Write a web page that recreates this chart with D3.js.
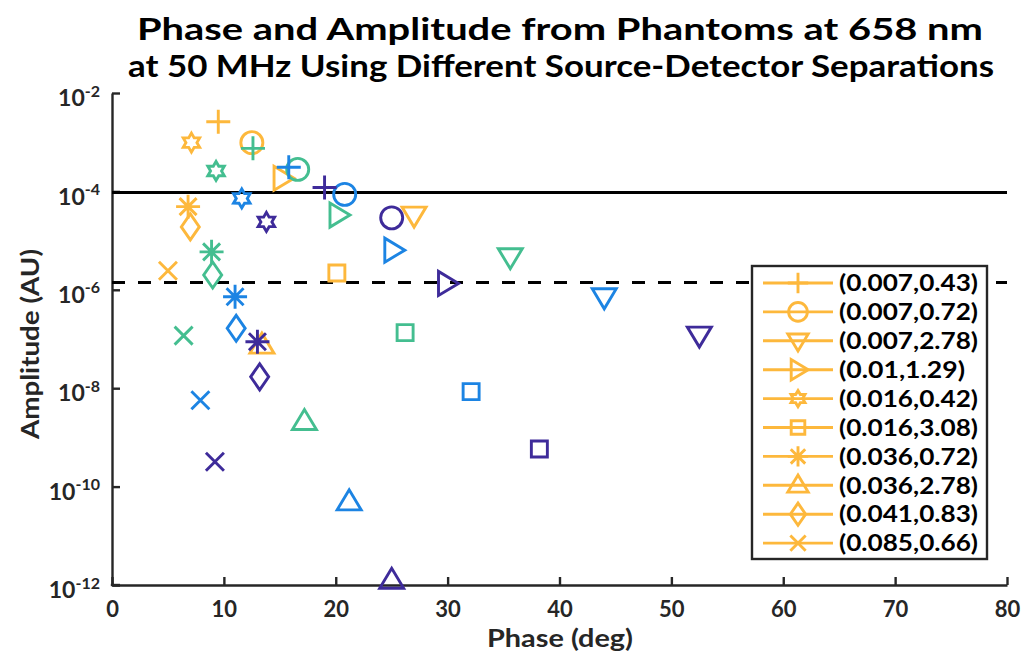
<!DOCTYPE html>
<html>
<head>
<meta charset="utf-8">
<script src="https://cdn.jsdelivr.net/npm/d3@7"></script>
<style>
  body { margin: 0; background: #fff; }
  text { font-family: Lato, "Open Sans", sans-serif; font-weight: bold; fill: #262626; }
</style>
</head>
<body>
<div id="chart-div"></div>
<script>

// source-detector pairs, one marker each
const pairLabels = ["(0.007,0.43)", "(0.007,0.72)", "(0.007,2.78)", "(0.01,1.29)", "(0.016,0.42)",
                    "(0.016,3.08)", "(0.036,0.72)", "(0.036,2.78)", "(0.041,0.83)", "(0.085,0.66)"];
const markerTypes = ["plus", "circle", "triDown", "triRight", "hexagram",
                     "square", "asterisk", "triUp", "diamond", "cross"];

// one colour per phantom
const seriesColors = ["#FDB83C", "#44BE90", "#1C84E3", "#3E2B9A"];

const phaseYellow = [9.5, 12.5, 27.0, 15.2, 7.1, 20.1, 6.8, 13.4, 7.0, 5.0];
const ampYellow = [2.6e-3, 9.8e-4, 3.3e-5, 1.85e-4, 9.8e-4, 2.2e-6, 4.9e-5, 7.5e-8, 1.9e-5, 2.45e-6];
const phaseGreen = [12.6, 16.6, 35.6, 20.2, 9.3, 26.2, 8.9, 17.2, 9.0, 6.4];
const ampGreen = [7.5e-4, 2.8e-4, 4.7e-6, 3.3e-5, 2.6e-4, 1.35e-7, 5.9e-6, 2.1e-9, 2.0e-6, 1.17e-7];
const phaseBlue = [15.8, 20.8, 44.0, 25.1, 11.6, 32.1, 11.0, 21.2, 11.1, 7.9];
const ampBlue = [3.1e-4, 8.7e-5, 7.2e-7, 6.4e-6, 7.2e-5, 8.5e-9, 7.2e-7, 4.9e-11, 1.65e-7, 5.7e-9];
const phasePurple = [19.0, 25.0, 52.5, 29.9, 13.8, 38.2, 13.0, 25.0, 13.2, 9.2];
const ampPurple = [1.2e-4, 2.9e-5, 1.2e-7, 1.35e-6, 2.4e-5, 5.8e-10, 8.8e-8, 1.25e-12, 1.7e-8, 3.2e-10];

// reference levels
const solidLevel = 9.5e-5;
const dashedLevel = 1.4e-6;

const xTicks = [0, 10, 20, 30, 40, 50, 60, 70, 80];
const yTickExps = [-2, -4, -6, -8, -10, -12];

const svgDims = { width: 1026, height: 659 };
const plot = { left: 112, right: 1007, top: 93, bottom: 585 };

const svg = d3.select("#chart-div")
    .append("svg")
    .attr("width", svgDims.width)
    .attr("height", svgDims.height);

const xScale = d3.scaleLinear().domain([0, 80]).range([plot.left, plot.right]);
const yScale = d3.scaleLog().domain([1e-12, 1e-2]).range([plot.bottom, plot.top]);

// marker outlines
function markerPath(type, s) {
    const p = d3.path();
    if (type === "plus") {
        p.moveTo(-12 * s, 0); p.lineTo(12 * s, 0);
        p.moveTo(0, -12 * s); p.lineTo(0, 12 * s);
    } else if (type === "circle") {
        p.moveTo(11 * s, 0); p.arc(0, 0, 11 * s, 0, 2 * Math.PI);
    } else if (type === "triDown") {
        p.moveTo(-12 * s, -8 * s); p.lineTo(12 * s, -8 * s); p.lineTo(0, 12 * s); p.closePath();
    } else if (type === "triUp") {
        p.moveTo(-12 * s, 8 * s); p.lineTo(12 * s, 8 * s); p.lineTo(0, -12 * s); p.closePath();
    } else if (type === "triRight") {
        p.moveTo(-8 * s, -12 * s); p.lineTo(-8 * s, 12 * s); p.lineTo(12 * s, 0); p.closePath();
    } else if (type === "hexagram") {
        for (let i = 0; i < 12; i++) {
            const r = (i % 2 === 0 ? 9.5 : 5.5) * s;
            const a = -Math.PI / 2 + i * Math.PI / 6;
            if (i === 0) p.moveTo(r * Math.cos(a), r * Math.sin(a));
            else p.lineTo(r * Math.cos(a), r * Math.sin(a));
        }
        p.closePath();
    } else if (type === "square") {
        p.rect(-8 * s, -8 * s, 16 * s, 16 * s);
    } else if (type === "asterisk") {
        const d = 8.5 * s;
        p.moveTo(-12 * s, 0); p.lineTo(12 * s, 0);
        p.moveTo(0, -12 * s); p.lineTo(0, 12 * s);
        p.moveTo(-d, -d); p.lineTo(d, d);
        p.moveTo(-d, d); p.lineTo(d, -d);
    } else if (type === "diamond") {
        p.moveTo(0, -13 * s); p.lineTo(9 * s, 0); p.lineTo(0, 13 * s); p.lineTo(-9 * s, 0); p.closePath();
    } else if (type === "cross") {
        p.moveTo(-9 * s, -9 * s); p.lineTo(9 * s, 9 * s);
        p.moveTo(-9 * s, 9 * s); p.lineTo(9 * s, -9 * s);
    }
    return p.toString();
}

// Title
svg.append("text")
    .attr("x", 560).attr("y", 40)
    .attr("text-anchor", "middle")
    .attr("textLength", 846).attr("lengthAdjust", "spacingAndGlyphs")
    .style("font-size", "31px").style("fill", "#000")
    .text("Phase and Amplitude from Phantoms at 658 nm");
svg.append("text")
    .attr("x", 561).attr("y", 77)
    .attr("text-anchor", "middle")
    .attr("textLength", 866).attr("lengthAdjust", "spacingAndGlyphs")
    .style("font-size", "31px").style("fill", "#000")
    .text("at 50 MHz Using Different Source-Detector Separations");

// x axis
const xGroup = svg.append("g")
    .attr("transform", "translate(0," + plot.bottom + ")")
    .call(d3.axisBottom(xScale).tickValues(xTicks).tickSize(-8).tickPadding(16).tickSizeOuter(0));
xGroup.selectAll("text").style("font-size", "22px");

// y axis, labels are 10 with superscript exponent
const yGroup = svg.append("g")
    .attr("transform", "translate(" + plot.left + ",0)")
    .call(d3.axisLeft(yScale).tickValues(yTickExps.map(e => Math.pow(10, e)))
        .tickSize(-8).tickPadding(12).tickSizeOuter(0).tickFormat(() => ""));
yGroup.selectAll(".tick text").each(function(d) {
    const t = d3.select(this).style("font-size", "23px").attr("dy", "0.55em");
    t.append("tspan").text("10");
    t.append("tspan").attr("dy", "-0.6em").style("font-size", "16px")
        .text(Math.round(Math.log10(d)));
});

[xGroup, yGroup].forEach(g => {
    g.select(".domain").attr("stroke", "#262626").attr("stroke-width", 2.4);
    g.selectAll(".tick line").attr("stroke", "#262626").attr("stroke-width", 2.4);
    g.selectAll("text").style("fill", "#262626");
});
// close the corner where both axes meet
svg.append("line")
    .attr("x1", plot.left - 1.2).attr("x2", plot.left + 8)
    .attr("y1", plot.bottom).attr("y2", plot.bottom)
    .attr("stroke", "#262626").attr("stroke-width", 2.4);

// axis titles
svg.append("text")
    .attr("x", 560).attr("y", 647)
    .attr("text-anchor", "middle")
    .attr("textLength", 146).attr("lengthAdjust", "spacingAndGlyphs")
    .style("font-size", "25px")
    .text("Phase (deg)");
svg.append("text")
    .attr("transform", "translate(39," + 344 + ") rotate(-90)")
    .attr("text-anchor", "middle")
    .attr("textLength", 190).attr("lengthAdjust", "spacingAndGlyphs")
    .style("font-size", "24px")
    .text("Amplitude (AU)");

// reference lines
svg.append("line")
    .attr("x1", xScale(0)).attr("x2", xScale(80))
    .attr("y1", yScale(solidLevel)).attr("y2", yScale(solidLevel))
    .attr("stroke", "#000").attr("stroke-width", 3);
svg.append("line")
    .attr("x1", xScale(0)).attr("x2", xScale(80))
    .attr("y1", yScale(dashedLevel)).attr("y2", yScale(dashedLevel))
    .attr("stroke", "#000").attr("stroke-width", 3)
    .attr("stroke-dasharray", "13,13");

// markers, one series per phantom
const series = [
    { color: seriesColors[0], phase: phaseYellow, amp: ampYellow },
    { color: seriesColors[1], phase: phaseGreen, amp: ampGreen },
    { color: seriesColors[2], phase: phaseBlue, amp: ampBlue },
    { color: seriesColors[3], phase: phasePurple, amp: ampPurple }
];

series.forEach(s => {
    svg.append("g").selectAll("path")
        .data(markerTypes.map((m, i) => ({ type: m, x: s.phase[i], y: s.amp[i] })))
        .enter().append("path")
        .attr("transform", d => "translate(" + xScale(d.x) + "," + yScale(d.y) + ")")
        .attr("d", d => markerPath(d.type, 1))
        .attr("fill", "none")
        .attr("stroke", s.color)
        .attr("stroke-width", 2.9)
        .attr("stroke-linejoin", "miter");
});

// legend (yellow series)
const legend = { x: 752, y: 266, w: 235, h: 293, row: 28.9 };
const lg = svg.append("g");
lg.append("rect")
    .attr("x", legend.x).attr("y", legend.y)
    .attr("width", legend.w).attr("height", legend.h)
    .attr("fill", "#fff").attr("stroke", "#262626").attr("stroke-width", 2.4);

pairLabels.forEach((label, i) => {
    const cy = legend.y + 17 + i * legend.row;
    lg.append("line")
        .attr("x1", legend.x + 11).attr("x2", legend.x + 81)
        .attr("y1", cy).attr("y2", cy)
        .attr("stroke", seriesColors[0]).attr("stroke-width", 2.9);
    lg.append("path")
        .attr("transform", "translate(" + (legend.x + 46) + "," + cy + ")")
        .attr("d", markerPath(markerTypes[i], 0.85))
        .attr("fill", "none")
        .attr("stroke", seriesColors[0])
        .attr("stroke-width", 2.9);
    lg.append("text")
        .attr("x", legend.x + 87).attr("y", cy)
        .attr("dy", "0.36em")
        .attr("textLength", label.length > 11 ? 139 : 126).attr("lengthAdjust", "spacingAndGlyphs")
        .style("font-size", "23px")
        .style("fill", "#000")
        .text(label);
});
</script>
</body>
</html>
